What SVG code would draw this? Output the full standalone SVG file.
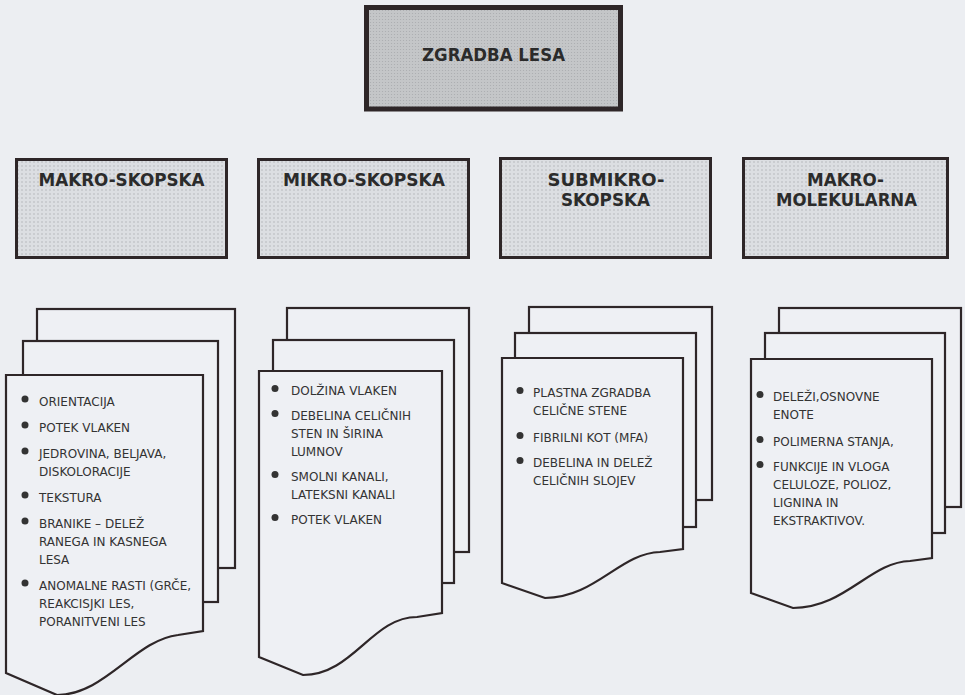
<svg xmlns="http://www.w3.org/2000/svg" width="965" height="695" viewBox="0 0 965 695">
<defs>
<pattern id="dotsTop" width="3" height="3" patternUnits="userSpaceOnUse">
<rect width="3" height="3" fill="#c4c6c8"/>
<circle cx="1.5" cy="1.5" r="0.6" fill="#a9abae"/>
</pattern>
<pattern id="dots" width="4" height="4" patternUnits="userSpaceOnUse">
<rect width="4" height="4" fill="#dcdee2"/>
<circle cx="2" cy="2" r="0.8" fill="#b4b6ba"/>
</pattern>
<style>
.bg{fill:#eceef2}
.top{fill:url(#dotsTop);stroke:#2e2628;stroke-width:5}
.cat{fill:url(#dots);stroke:#2e2628;stroke-width:3}
.sheet{fill:#eef0f4;stroke:#2e2628;stroke-width:2.2;stroke-linejoin:miter}
.h{font-family:"DejaVu Sans","Liberation Sans",sans-serif;font-weight:bold;font-size:18.5px;fill:#2b2b2b;text-anchor:middle}
.t{font-family:"DejaVu Sans","Liberation Sans",sans-serif;font-size:12px;fill:#333}
.b{fill:#333}
</style>
</defs>
<rect class="bg" x="0" y="0" width="965" height="695"/>

<g id="zgradba-lesa">
<rect class="top" x="366.5" y="7.5" width="254" height="101.5"/>
<text class="h" x="493.5" y="61" textLength="143" lengthAdjust="spacingAndGlyphs">ZGRADBA LESA</text>
</g>

<g id="makro-skopska">
<rect class="cat" x="16.5" y="159.5" width="210" height="98"/>
<text class="h" x="121.5" y="186" textLength="166" lengthAdjust="spacingAndGlyphs">MAKRO-SKOPSKA</text>
</g>
<g id="mikro-skopska">
<rect class="cat" x="258.5" y="159.5" width="210" height="98"/>
<text class="h" x="364" y="186" textLength="162" lengthAdjust="spacingAndGlyphs">MIKRO-SKOPSKA</text>
</g>
<g id="submikro-skopska">
<rect class="cat" x="500.5" y="158.5" width="210" height="99"/>
<text class="h" x="606" y="186" textLength="117" lengthAdjust="spacingAndGlyphs">SUBMIKRO-</text>
<text class="h" x="605.5" y="206" textLength="89" lengthAdjust="spacingAndGlyphs">SKOPSKA</text>
</g>
<g id="makro-molekularna">
<rect class="cat" x="743.5" y="158.5" width="204" height="99"/>
<text class="h" x="845.5" y="186" textLength="77" lengthAdjust="spacingAndGlyphs">MAKRO-</text>
<text class="h" x="846.5" y="206" textLength="141" lengthAdjust="spacingAndGlyphs">MOLEKULARNA</text>
</g>

<g id="connectors"></g>

<g id="list-makro">
<rect class="sheet" x="37" y="309" width="198" height="259"/>
<rect class="sheet" x="23" y="341" width="195" height="261"/>
<path class="sheet" d="M6 375 H203 V631 L178 635 C135 640 105 695 57 695 L6 673 Z"/>
<circle class="b" cx="25" cy="399" r="3.5"/>
<text class="t" x="39" y="405.5">ORIENTACIJA</text>
<circle class="b" cx="25" cy="425" r="3.5"/>
<text class="t" x="39" y="431.5">POTEK VLAKEN</text>
<circle class="b" cx="25" cy="451" r="3.5"/>
<text class="t" x="39" y="457.5">JEDROVINA, BELJAVA,<tspan x="39" y="475.5">DISKOLORACIJE</tspan></text>
<circle class="b" cx="25" cy="495" r="3.5"/>
<text class="t" x="39" y="501.5">TEKSTURA</text>
<circle class="b" cx="25" cy="521" r="3.5"/>
<text class="t" x="39" y="527.5">BRANIKE – DELEŽ<tspan x="39" y="545.5">RANEGA IN KASNEGA</tspan><tspan x="39" y="563.5">LESA</tspan></text>
<circle class="b" cx="25" cy="583" r="3.5"/>
<text class="t" x="39" y="589.5">ANOMALNE RASTI (GRČE,<tspan x="39" y="607.5">REAKCISJKI LES,</tspan><tspan x="39" y="625.5">PORANITVENI LES</tspan></text>
</g>

<g id="list-mikro">
<rect class="sheet" x="287" y="308" width="182" height="244"/>
<rect class="sheet" x="273" y="340" width="181" height="243"/>
<path class="sheet" d="M259 371 H442 V613 L417 617 C372 617 353 675 303 675 L259 657 Z"/>
<circle class="b" cx="275" cy="388.5" r="3.5"/>
<text class="t" x="291" y="395">DOLŽINA VLAKEN</text>
<circle class="b" cx="275" cy="413.5" r="3.5"/>
<text class="t" x="291" y="420">DEBELINA CELIČNIH<tspan x="291" y="438">STEN IN ŠIRINA</tspan><tspan x="291" y="456">LUMNOV</tspan></text>
<circle class="b" cx="275" cy="474.5" r="3.5"/>
<text class="t" x="291" y="481">SMOLNI KANALI,<tspan x="291" y="499">LATEKSNI KANALI</tspan></text>
<circle class="b" cx="275" cy="517.5" r="3.5"/>
<text class="t" x="291" y="524">POTEK VLAKEN</text>
</g>

<g id="list-submikro">
<rect class="sheet" x="529" y="307" width="183" height="193"/>
<rect class="sheet" x="515" y="333" width="181" height="194"/>
<path class="sheet" d="M502 358 H683 V549 L660 552 C620 553 595 598 545 598 L502 583 Z"/>
<circle class="b" cx="520" cy="390.5" r="3.5"/>
<text class="t" x="533" y="397">PLASTNA ZGRADBA<tspan x="533" y="415">CELIČNE STENE</tspan></text>
<circle class="b" cx="520" cy="435.5" r="3.5"/>
<text class="t" x="533" y="442">FIBRILNI KOT (MFA)</text>
<circle class="b" cx="520" cy="460.5" r="3.5"/>
<text class="t" x="533" y="467">DEBELINA IN DELEŽ<tspan x="533" y="485">CELIČNIH SLOJEV</tspan></text>
</g>

<g id="list-makromolekularna">
<rect class="sheet" x="779" y="308" width="182" height="199"/>
<rect class="sheet" x="765" y="333" width="180" height="200"/>
<path class="sheet" d="M751 359 H932 V558 L910 561 C870 562 845 608 793 608 L751 593 Z"/>
<circle class="b" cx="760" cy="394.5" r="3.5"/>
<text class="t" x="773" y="401">DELEŽI,OSNOVNE<tspan x="773" y="419">ENOTE</tspan></text>
<circle class="b" cx="760" cy="439.5" r="3.5"/>
<text class="t" x="773" y="446">POLIMERNA STANJA,</text>
<circle class="b" cx="760" cy="464.5" r="3.5"/>
<text class="t" x="773" y="471">FUNKCIJE IN VLOGA<tspan x="773" y="489">CELULOZE, POLIOZ,</tspan><tspan x="773" y="507">LIGNINA IN</tspan><tspan x="773" y="525">EKSTRAKTIVOV.</tspan></text>
</g>
</svg>
